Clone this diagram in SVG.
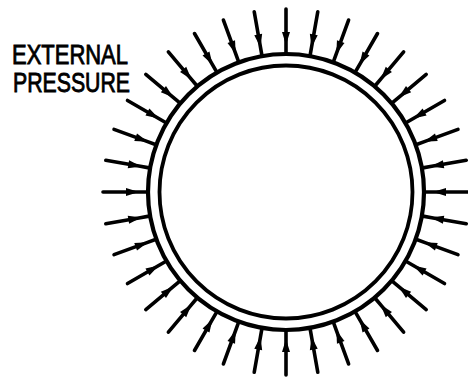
<svg xmlns="http://www.w3.org/2000/svg" xmlns:xlink="http://www.w3.org/1999/xlink" width="468" height="383" viewBox="0 0 468 383">
<style>
.ring{fill:none;stroke:#000}
.shaft{fill:none;stroke:#000;stroke-width:3.6;stroke-linecap:round;marker-mid:url(#head)}
.lbl{font-family:"Liberation Sans",Arial,sans-serif;font-size:28px;fill:#000;stroke:#000;stroke-width:0.9}
</style>
<defs>
<marker id="head" markerUnits="userSpaceOnUse" viewBox="-13 -5 15 10" markerWidth="15" markerHeight="10" refX="0" refY="0" orient="auto">
<path d="M1,0 L-12,-4 L-12,4 Z" fill="#000"/>
</marker>
<path id="arrow" class="shaft" d="M286,9 L286,44 L286,53"/>
</defs>
<rect width="468" height="383" fill="#fff"/>
<g id="vessel">
<circle class="ring" cx="286" cy="192" r="138" stroke-width="4.2"/>
<circle class="ring" cx="286" cy="192" r="126.5" stroke-width="3.8"/>
</g>
<g id="connectors">
<use xlink:href="#arrow" transform="rotate(0 286 192)"/>
<use xlink:href="#arrow" transform="rotate(10 286 192)"/>
<use xlink:href="#arrow" transform="rotate(20 286 192)"/>
<use xlink:href="#arrow" transform="rotate(30 286 192)"/>
<use xlink:href="#arrow" transform="rotate(40 286 192)"/>
<use xlink:href="#arrow" transform="rotate(50 286 192)"/>
<use xlink:href="#arrow" transform="rotate(60 286 192)"/>
<use xlink:href="#arrow" transform="rotate(70 286 192)"/>
<use xlink:href="#arrow" transform="rotate(80 286 192)"/>
<use xlink:href="#arrow" transform="rotate(90 286 192)"/>
<use xlink:href="#arrow" transform="rotate(100 286 192)"/>
<use xlink:href="#arrow" transform="rotate(110 286 192)"/>
<use xlink:href="#arrow" transform="rotate(120 286 192)"/>
<use xlink:href="#arrow" transform="rotate(130 286 192)"/>
<use xlink:href="#arrow" transform="rotate(140 286 192)"/>
<use xlink:href="#arrow" transform="rotate(150 286 192)"/>
<use xlink:href="#arrow" transform="rotate(160 286 192)"/>
<use xlink:href="#arrow" transform="rotate(170 286 192)"/>
<use xlink:href="#arrow" transform="rotate(180 286 192)"/>
<use xlink:href="#arrow" transform="rotate(190 286 192)"/>
<use xlink:href="#arrow" transform="rotate(200 286 192)"/>
<use xlink:href="#arrow" transform="rotate(210 286 192)"/>
<use xlink:href="#arrow" transform="rotate(220 286 192)"/>
<use xlink:href="#arrow" transform="rotate(230 286 192)"/>
<use xlink:href="#arrow" transform="rotate(240 286 192)"/>
<use xlink:href="#arrow" transform="rotate(250 286 192)"/>
<use xlink:href="#arrow" transform="rotate(260 286 192)"/>
<use xlink:href="#arrow" transform="rotate(270 286 192)"/>
<use xlink:href="#arrow" transform="rotate(280 286 192)"/>
<use xlink:href="#arrow" transform="rotate(290 286 192)"/>
<use xlink:href="#arrow" transform="rotate(300 286 192)"/>
<use xlink:href="#arrow" transform="rotate(310 286 192)"/>
<use xlink:href="#arrow" transform="rotate(320 286 192)"/>
<use xlink:href="#arrow" transform="rotate(330 286 192)"/>
<use xlink:href="#arrow" transform="rotate(340 286 192)"/>
<use xlink:href="#arrow" transform="rotate(350 286 192)"/>
</g>
<g id="label">
<text class="lbl" x="12" y="63.5" textLength="116" lengthAdjust="spacingAndGlyphs">EXTERNAL</text>
<text class="lbl" x="13" y="92" textLength="117" lengthAdjust="spacingAndGlyphs">PRESSURE</text>
</g>
</svg>
